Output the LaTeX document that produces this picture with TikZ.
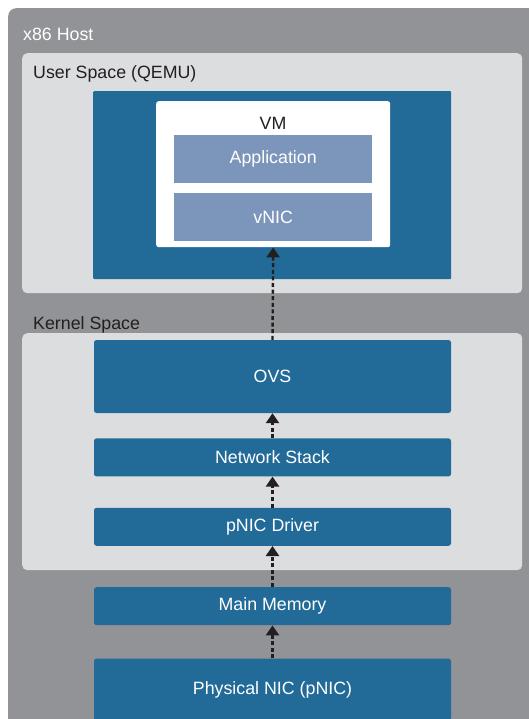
\documentclass[tikz,border=0pt]{standalone}
\usepackage{fontspec}
\setmainfont{Liberation Sans}
\usetikzlibrary{arrows.meta, positioning}
\definecolor{hostgrey}{RGB}{146, 147, 151}
\definecolor{spacegrey}{RGB}{220, 221, 223}
\definecolor{stackblue}{RGB}{34, 107, 153}
\definecolor{vnodeblue}{RGB}{123, 150, 186}
\definecolor{inkblack}{RGB}{35, 31, 32}
\tikzset{
  hostbox/.style={
    rectangle, rounded corners=8pt, fill=hostgrey,
    anchor=north west, inner sep=0pt
  },
  spacebox/.style={
    rectangle, rounded corners=5pt, fill=spacegrey,
    anchor=north west, inner sep=0pt
  },
  bluebox/.style={
    rectangle, rounded corners=2.5pt, fill=stackblue,
    minimum width=357pt, inner sep=0pt,
    text=white, font=\fontsize{17.8}{20}\selectfont
  },
  vmbox/.style={
    rectangle, rounded corners=2.5pt, fill=white,
    anchor=north west, inner sep=0pt
  },
  vnodebox/.style={
    rectangle, fill=vnodeblue, anchor=north west,
    minimum width=198pt, minimum height=48pt, inner sep=0pt,
    text=white, font=\fontsize{17.8}{20}\selectfont
  },
  arrow/.style={
    -{Triangle[length=10pt,width=13pt]}, line width=2.4pt,
    draw=inkblack, dash pattern=on 4pt off 2.6pt
  },
  lbl/.style={
    text=inkblack, inner sep=0pt, font=\fontsize{17.8}{20}\selectfont
  }
}
\begin{document}
\begin{tikzpicture}[x=1pt, y=-1pt]

  \useasboundingbox (0,0) rectangle (529,719);
  \clip (0,0) rectangle (529,719);

  %% ---- Containers ----
  \node[hostbox, minimum width=540pt, minimum height=730pt] (host) at (8,8) {};
  \node[lbl, anchor=west, text=white] (hostlbl) at (23,34) {x86 Host};

  \node[spacebox, minimum width=500pt, minimum height=240pt] (user) at (22,53) {};
  \node[lbl, anchor=west] (userlbl) at (33,74) {User Space (QEMU)};

  \node[spacebox, minimum width=500pt, minimum height=237pt] (kernel) at (22,333) {};
  \node[lbl, anchor=west] (kernellbl) at (33,325) {Kernel Space};

  %% ---- QEMU and VM ----
  \node[bluebox, anchor=north west, minimum width=358pt, minimum height=188pt,
        rounded corners=1pt] (qemu) at (93,91) {};
  \node[vmbox, minimum width=234pt, minimum height=146pt] (vm) at (156,101) {};
  \node[lbl] (vmlbl) at (273,123) {VM};
  \node[vnodebox] (app) at (174,135) {Application};
  \node[vnodebox] (vnic) at (174,193) {vNIC};

  %% ---- Kernel stack, upwards from the wire ----
  \node[bluebox, minimum height=73pt] (ovs) at (272.5,376.5) {OVS};
  \node[bluebox, minimum height=38pt, below=25pt of ovs] (netstack) {Network Stack};
  \node[bluebox, minimum height=38pt, below=31pt of netstack] (driver) {pNIC Driver};
  \node[bluebox, minimum height=38pt, below=41pt of driver] (memory) {Main Memory};
  \node[bluebox, minimum height=62pt, below=33pt of memory] (pnic) {Physical NIC (pNIC)};

  %% ---- Packet path ----
  \draw[arrow] (pnic.north) -- (memory.south);
  \draw[arrow] (memory.north) -- (driver.south);
  \draw[arrow] (driver.north) -- (netstack.south);
  \draw[arrow] (netstack.north) -- (ovs.south);
  \draw[arrow] (ovs.north) -- (vm.south);

\end{tikzpicture}
\end{document}
